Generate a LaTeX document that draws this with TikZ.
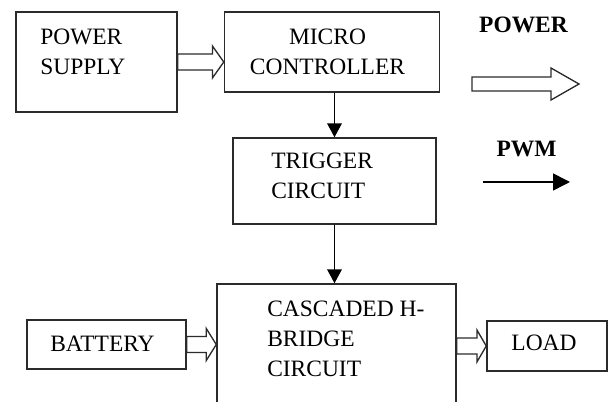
\documentclass[tikz,border=0pt]{standalone}
\usepackage{fontspec}
\setmainfont{Liberation Serif}
\usetikzlibrary{arrows.meta,positioning,calc}

\definecolor{edge}{HTML}{2B2B2B}

% hollow block arrow: from, to, shaft half height, head half height, head length
\newcommand{\blockarrow}[5]{%
  \draw[hollow] let \p1=(#1), \p2=(#2) in
    (\x1,\y1+#3) -- (\x2-#5,\y1+#3) -- (\x2-#5,\y1+#4) -- (\x2,\y1)
    -- (\x2-#5,\y1-#4) -- (\x2-#5,\y1-#3) -- (\x1,\y1-#3) -- cycle;}

\begin{document}
\begin{tikzpicture}[
  x=0.75pt, y=-0.75pt,
  blk/.style={draw=edge, line width=1.1pt, inner sep=0pt},
  txt/.style={font=\fontsize{17.6}{22.5}\selectfont, inner sep=0pt, align=left},
  hdr/.style={font=\fontsize{17.6}{22.5}\selectfont\bfseries, inner sep=0pt},
  arr/.style={-{Triangle[length=10.5pt,width=11pt]}, line width=1.2pt},
  hollow/.style={draw=edge, line width=1pt, line join=miter},
]
\useasboundingbox (0,0) rectangle (608,402);
\clip (0,0) rectangle (608,402);

% blocks
\node[blk, minimum width=120.75pt, minimum height=75pt] (psu) at (96.5,62) {};
\node[blk, minimum width=161.25pt, minimum height=60pt] (mcu) at (332,52) {};
\node[blk, minimum width=152.25pt, minimum height=64.5pt] (trg) at (334.5,181) {};
\node[blk, minimum width=179.25pt, minimum height=99pt] (casc) at (336.5,350) {};
\node[blk, minimum width=119.25pt, minimum height=36.75pt] (bat) at (106.5,344.5) {};
\node[blk, minimum width=90pt, minimum height=37.5pt] (load) at (547,346) {};

% texts (base = last line)
\node[txt, anchor=base west] (psutxt) at (40,75) {POWER\\SUPPLY};
\node[txt, align=center, anchor=base] (mcutxt) at (327.5,75) {MICRO\\CONTROLLER};
\node[txt, anchor=base west] (trgtxt) at (271,199) {TRIGGER\\CIRCUIT};
\node[txt, anchor=base west] (casctxt) at (267,377) {CASCADED H-\\BRIDGE\\CIRCUIT};
\node[txt, anchor=base] (battxt) at (102.5,352) {BATTERY};
\node[txt, anchor=base] (loadtxt) at (544,351) {LOAD};

% connectors
\blockarrow{psu.east}{mcu.west}{6pt}{12pt}{8.5pt}
\draw[arr] (mcu.south -| trg.north) -- (trg.north);
\draw[arr] (trg.south) -- (trg.south |- casc.north);
\blockarrow{bat.east}{casc.west}{6pt}{12pt}{7.5pt}
\blockarrow{casc.east |- load.west}{load.west}{6pt}{12pt}{7pt}

% legend
\node[hdr, anchor=base] (powlbl) at (523.5,33) {POWER};
\coordinate (powA) at (472,84);
\coordinate (powB) at (579,84);
\blockarrow{powA}{powB}{5.25pt}{12pt}{21pt}

\node[hdr, anchor=base] (pwmlbl) at (526.5,157) {PWM};
\coordinate (pwmA) at (483,182);
\coordinate (pwmB) at (570,182);
\draw[line width=1.2pt, -{Triangle[length=12.75pt,width=12.75pt]}] (pwmA) -- (pwmB);

\end{tikzpicture}
\end{document}
